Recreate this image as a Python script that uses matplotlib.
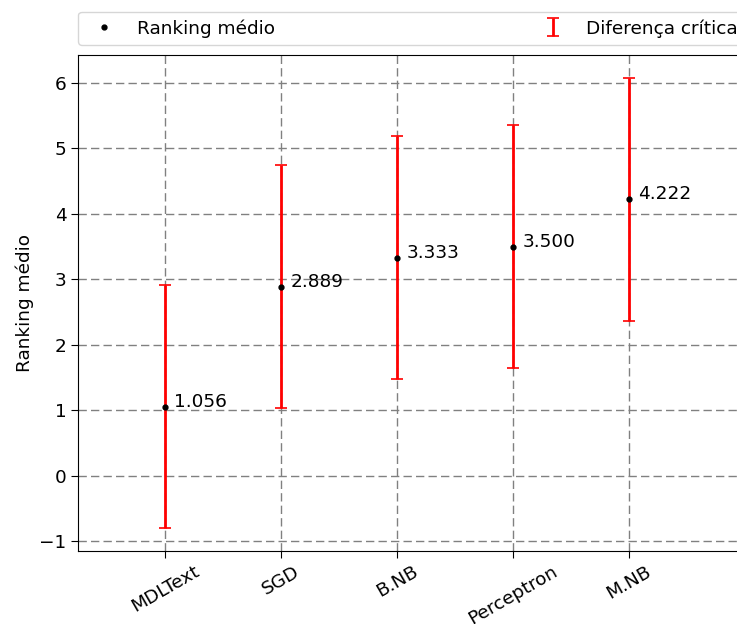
import matplotlib
matplotlib.use("Agg")
import matplotlib.pyplot as plt
import numpy as np

classifiers = ["MDLText", "SGD", "B.NB", "Perceptron", "M.NB"]
mean_ranks = [1.056, 2.889, 3.333, 3.500, 4.222]
critical_difference = 1.857

FS = 13.3
fig = plt.figure(figsize=(7.37, 6.24), dpi=100)
ax = fig.add_axes([78/737, (624-551)/624, (745-78)/737, (551-55)/624])

x = np.arange(len(classifiers))
ax.errorbar(x, mean_ranks, yerr=critical_difference, fmt='none', ecolor='red',
            elinewidth=2, capsize=4, capthick=1.2, label='Diferença crítica')
ax.plot(x, mean_ranks, '.', color='black', markersize=7, label='Ranking médio', zorder=3)
for xi, v in zip(x, mean_ranks):
    ax.text(xi + 0.08, v, f"{v:.3f}", fontsize=FS)

ax.set_xticks(x)
ax.set_xticklabels(classifiers, rotation=30, fontsize=FS)
ax.tick_params(axis='both', labelsize=FS, length=4.7)
ax.set_ylabel("Ranking médio", fontsize=FS)
ax.set_xlim(-0.75, 5.0)
ax.set_yticks(range(-1, 7))
ax.grid(True, linestyle=(0, (6, 3)), color='gray', linewidth=1)
ax.set_axisbelow(True)

handles, labels = ax.get_legend_handles_labels()
order = [labels.index('Ranking médio'), labels.index('Diferença crítica')]
ax.legend([handles[i] for i in order], [labels[i] for i in order],
          bbox_to_anchor=(0, 1.02, 1, 0.102), loc='lower left', ncol=2,
          mode='expand', borderaxespad=0, fontsize=FS)

fig.savefig("out.png", dpi=100)
